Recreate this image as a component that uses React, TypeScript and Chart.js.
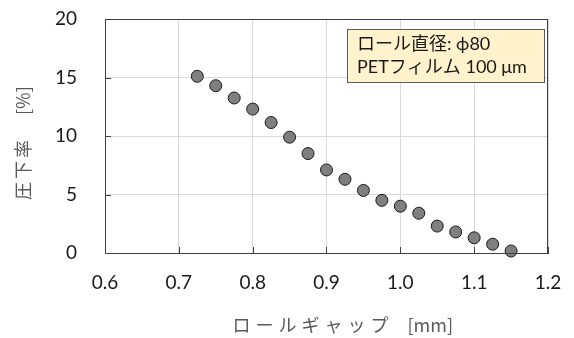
import React, { useEffect, useRef } from "react";
import { Chart, registerables } from "chart.js";

Chart.register(...registerables);

// Roll gap [mm] vs. reduction ratio [%]
const rollGap: number[] = [
  0.725, 0.75, 0.775, 0.8, 0.825, 0.85, 0.875, 0.9, 0.925,
  0.95, 0.975, 1.0, 1.025, 1.05, 1.075, 1.1, 1.125, 1.15,
];
const reduction: number[] = [
  15.1, 14.3, 13.25, 12.3, 11.15, 9.9, 8.5, 7.1, 6.3,
  5.35, 4.5, 4.0, 3.4, 2.3, 1.8, 1.3, 0.75, 0.17,
];

const xTitleJp = "ロールギャップ";
const xTitleUnit = "[mm]";
const yTitleJp = "圧下率";
const yTitleUnit = "[%]";
const noteLines = ["ロール直径: ϕ80", "PETフィルム 100 μm"];

const NUM_FONT = "Lato, 'Noto Sans CJK JP', sans-serif";
const JP_FONT = "'Noto Sans CJK JP', sans-serif";

const decorations = {
  id: "decorations",
  afterDraw(chart: any) {
    const { ctx, chartArea } = chart;
    const { left, right, top, bottom } = chartArea;
    const xs = chart.scales.x;
    const ys = chart.scales.y;
    ctx.save();

    // frame around plot area
    ctx.strokeStyle = "#404040";
    ctx.lineWidth = 1;
    ctx.strokeRect(left + 0.5, top + 0.5, right - left - 1, bottom - top);

    // inward tick marks
    ctx.beginPath();
    xs.ticks.forEach((t: any) => {
      const px = Math.round(xs.getPixelForValue(t.value)) + 0.5;
      ctx.moveTo(px, bottom);
      ctx.lineTo(px, bottom - 6);
    });
    ys.ticks.forEach((t: any) => {
      const py = Math.round(ys.getPixelForValue(t.value)) + 0.5;
      ctx.moveTo(left, py);
      ctx.lineTo(left + 6, py);
    });
    ctx.stroke();

    // note box
    const bx = right - 201;
    const by = top + 10;
    const bw = 197;
    const bh = 53;
    ctx.fillStyle = "#FFF2CC";
    ctx.fillRect(bx, by, bw, bh);
    ctx.strokeStyle = "#595959";
    ctx.strokeRect(bx + 0.5, by + 0.5, bw, bh);
    ctx.fillStyle = "#1a1a1a";
    ctx.font = `18px ${NUM_FONT}`;
    ctx.textAlign = "left";
    ctx.textBaseline = "middle";
    noteLines.forEach((line, i) => {
      ctx.fillText(line, bx + 10, by + 15 + i * 23);
    });

    // axis titles
    const cx = (left + right) / 2;
    const cy = (top + bottom) / 2;
    ctx.fillStyle = "#595959";
    ctx.font = `18px ${JP_FONT}`;
    ctx.textAlign = "left";
    ctx.textBaseline = "middle";
    (ctx as any).letterSpacing = "5px";
    ctx.fillText(xTitleJp, cx - 94, 325);
    (ctx as any).letterSpacing = "0px";
    ctx.fillText(xTitleUnit, cx + 81, 325);

    ctx.save();
    ctx.translate(23, cy);
    ctx.rotate(-Math.PI / 2);
    (ctx as any).letterSpacing = "3px";
    ctx.fillText(yTitleJp, -64, 0);
    (ctx as any).letterSpacing = "0px";
    ctx.fillText(yTitleUnit, 21, 0);
    ctx.restore();

    ctx.restore();
  },
};

export default function App() {
  const canvasRef = useRef<HTMLCanvasElement | null>(null);

  useEffect(() => {
    const canvas = canvasRef.current;
    if (!canvas) return;
    const chart = new Chart(canvas, {
      type: "scatter",
      data: {
        datasets: [
          {
            data: rollGap.map((x, i) => ({ x, y: reduction[i] })),
            pointRadius: 6,
            pointHoverRadius: 6,
            backgroundColor: "#7f7f7f",
            borderColor: "#1a1a1a",
            borderWidth: 1,
            clip: false as any,
          },
        ],
      },
      options: {
        responsive: false,
        animation: false,
        devicePixelRatio: 1,
        layout: { padding: { left: 0, right: 26, top: 19, bottom: 0 } },
        plugins: {
          legend: { display: false },
          tooltip: { enabled: false },
        },
        scales: {
          x: {
            type: "linear",
            min: 0.6,
            max: 1.2,
            afterFit: (s: any) => {
              s.height = 85;
              s.paddingLeft = 0;
              s.paddingRight = 0;
            },
            ticks: {
              stepSize: 0.1,
              padding: 18,
              color: "#1a1a1a",
              font: { family: NUM_FONT, size: 19 },
              callback: (v: any) => Number(v).toFixed(1),
            },
            grid: { color: "#d9d9d9", drawTicks: false },
            border: { color: "#404040" },
          },
          y: {
            type: "linear",
            min: 0,
            max: 20,
            afterFit: (s: any) => {
              s.width = 105;
              s.paddingTop = 0;
              s.paddingBottom = 0;
            },
            ticks: {
              stepSize: 5,
              padding: 28,
              color: "#1a1a1a",
              font: { family: NUM_FONT, size: 19 },
            },
            grid: { color: "#d9d9d9", drawTicks: false },
            border: { color: "#404040" },
          },
        },
      },
      plugins: [decorations],
    });
    return () => chart.destroy();
  }, []);

  return (
    <div style={{ position: "fixed", left: 0, top: 0, width: 574, height: 338, background: "#fff" }}>
      <canvas ref={canvasRef} width={574} height={338} />
    </div>
  );
}
